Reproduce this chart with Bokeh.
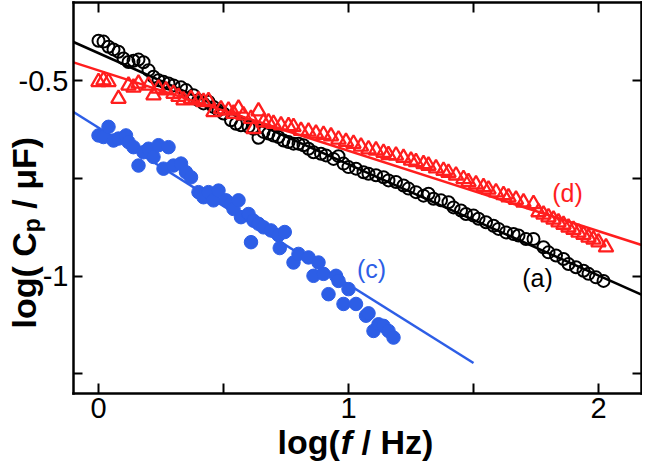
from math import pi
from bokeh.plotting import figure
from bokeh.models import LinearAxis, FixedTicker, Label, Range1d
from bokeh.embed import file_html
from bokeh.resources import INLINE

# ---------------- data ----------------
# (a) black open circles
a_x = [0.00, 0.02, 0.04, 0.06, 0.08, 0.10, 0.12, 0.14, 0.16, 0.18, 0.20, 0.22, 0.24, 0.26, 0.28, 0.30,
       0.33, 0.35, 0.38, 0.40, 0.42, 0.44, 0.46, 0.48, 0.50,
       0.53, 0.55, 0.57, 0.60, 0.62, 0.64, 0.66, 0.68, 0.70, 0.72, 0.74, 0.76, 0.78, 0.80, 0.82, 0.84, 0.86,
       0.89, 0.91, 0.94, 0.96, 0.98, 1.00, 1.03, 1.06, 1.08, 1.11, 1.14, 1.16, 1.19, 1.22, 1.24, 1.27,
       1.30, 1.32, 1.34, 1.37, 1.40, 1.42, 1.45, 1.47, 1.50, 1.52, 1.55, 1.58, 1.60, 1.63, 1.66, 1.68,
       1.71, 1.74, 1.78, 1.80, 1.83, 1.86, 1.88, 1.91, 1.94, 1.96, 1.99, 2.02]
a_y = [-0.398, -0.400, -0.413, -0.420, -0.426, -0.443, -0.452, -0.449, -0.446, -0.453, -0.473, -0.490,
       -0.499, -0.503, -0.507, -0.512,
       -0.517, -0.524, -0.537, -0.550, -0.558, -0.554, -0.567, -0.576, -0.584,
       -0.601, -0.610, -0.614, -0.618, -0.623, -0.646, -0.631, -0.635, -0.640, -0.644, -0.653, -0.657,
       -0.661, -0.661, -0.665, -0.674, -0.683,
       -0.687, -0.691, -0.700, -0.693, -0.712, -0.721, -0.725, -0.734, -0.738, -0.742, -0.747, -0.755,
       -0.759, -0.768, -0.776, -0.785, -0.794, -0.789, -0.802, -0.806, -0.811, -0.824, -0.832, -0.841,
       -0.845, -0.853, -0.862, -0.871, -0.879, -0.888, -0.892, -0.896, -0.905, -0.905, -0.926, -0.939,
       -0.947, -0.956, -0.969, -0.977, -0.986, -0.994, -1.003, -1.012]

# (d) red open triangles
d_x = [0.00, 0.02, 0.04, 0.08, 0.12, 0.14, 0.16, 0.20, 0.22, 0.24, 0.27, 0.30, 0.32, 0.34, 0.37, 0.40,
       0.42, 0.44, 0.46, 0.49, 0.52, 0.54, 0.56, 0.58, 0.61, 0.62, 0.64, 0.66, 0.68, 0.70, 0.73, 0.76,
       0.78, 0.81, 0.84, 0.87, 0.90, 0.93, 0.96, 0.99, 1.02, 1.05, 1.08, 1.11, 1.14, 1.16, 1.19, 1.22,
       1.25, 1.27, 1.30, 1.32, 1.35, 1.38, 1.40, 1.43, 1.46, 1.48, 1.51, 1.54, 1.56, 1.59, 1.62, 1.64,
       1.67, 1.70, 1.74, 1.76, 1.78, 1.80, 1.82, 1.84, 1.86, 1.88, 1.90, 1.92, 1.94, 1.96, 1.98, 2.00, 2.03]
d_y = [-0.503, -0.499, -0.503, -0.546, -0.512, -0.517, -0.507, -0.512, -0.537, -0.520, -0.524, -0.533,
       -0.541, -0.550, -0.546, -0.550, -0.554, -0.552, -0.580, -0.573, -0.576, -0.584, -0.571, -0.588,
       -0.597, -0.623, -0.578, -0.606, -0.606, -0.610, -0.614, -0.616, -0.618, -0.628, -0.630, -0.635,
       -0.638, -0.642, -0.650, -0.656, -0.661, -0.668, -0.675, -0.678, -0.684, -0.690, -0.691, -0.697,
       -0.704, -0.708, -0.713, -0.717, -0.724, -0.730, -0.735, -0.742, -0.751, -0.759, -0.765, -0.772,
       -0.778, -0.785, -0.792, -0.798, -0.804, -0.811, -0.815, -0.836, -0.842, -0.849, -0.855, -0.862,
       -0.868, -0.875, -0.881, -0.888, -0.894, -0.901, -0.906, -0.913, -0.926]

# (c) blue filled circles
c_x = [0.00, 0.02, 0.04, 0.06, 0.08, 0.11, 0.12, 0.14, 0.16, 0.18, 0.20, 0.22, 0.24, 0.26, 0.28, 0.30,
       0.33, 0.35, 0.37, 0.40, 0.42, 0.44, 0.46, 0.48, 0.51, 0.53, 0.54, 0.56, 0.57, 0.60, 0.62, 0.64,
       0.66, 0.69, 0.72, 0.745, 0.61, 0.725, 0.78, 0.80, 0.84, 0.88, 0.86, 0.90, 0.92, 0.95, 0.96, 1.00,
       0.98, 1.03, 1.07, 1.08, 1.10, 1.12, 1.14, 1.16, 1.18]
c_y = [-0.640, -0.644, -0.618, -0.653, -0.648, -0.640, -0.657, -0.670, -0.717, -0.683, -0.674, -0.695,
       -0.665, -0.725, -0.670, -0.717, -0.712, -0.734, -0.747, -0.785, -0.798, -0.785, -0.806, -0.781,
       -0.806, -0.815, -0.828, -0.806, -0.849, -0.841, -0.858, -0.866, -0.875, -0.883, -0.895, -0.887,
       -0.913, -0.928, -0.965, -0.943, -0.952, -0.965, -0.999, -0.994, -1.046, -0.999, -1.012, -1.033,
       -1.071, -1.071, -1.101, -1.095, -1.140, -1.123, -1.127, -1.140, -1.157]

# fitted lines
fit_a_x = [-0.1, 2.2]
fit_a_y = [-0.401, -1.055]
fit_d_x = [-0.1, 2.2]
fit_d_y = [-0.453, -0.926]
fit_c_x = [-0.1, 1.5]
fit_c_y = [-0.580, -1.222]

# axes
x_major = [0, 1, 2]
x_minor = [0.5, 1.5]
x_labels = ["0", "1", "2"]
y_major = [-1, -0.5]
y_minor = [-1.25, -0.75]
y_labels = ["-1", "-0.5"]

series_labels = ["(a)", "(c)", "(d)"]

# ---------------- styles / geometry ----------------
BLACK = "black"
RED = "#ff1e1e"
BLUE = "#2d5ee6"
FONT = "Liberation Sans"

CW, CH = 642, 462                 # canvas size
XPX, YPX = 250.0, 391.0           # px per data unit
BOX_L, BOX_R, BOX_T, BOX_B = 73, 640.5, 2, 393   # plot box in canvas px
X_LO = -0.1                       # data value at the box's left edge
Y_LO, Y_HI = -1.3, -0.3           # data values at the box's bottom / top edge

XR = (X_LO - BOX_L / XPX, X_LO + (CW - BOX_L) / XPX)
YR = (Y_HI - (CH - BOX_T) / YPX, Y_HI + BOX_T / YPX)
X_HI = X_LO + (BOX_R - BOX_L) / XPX


def dx(px):
    return XR[0] + px / XPX


def dy(py):
    return YR[1] - py / YPX


p = figure(width=CW, height=CH,
           x_range=Range1d(*XR), y_range=Range1d(*YR),
           output_backend="svg", toolbar_location=None,
           x_axis_location=None, y_axis_location=None,
           min_border=0)
p.min_border_left = 0
p.min_border_right = 0
p.min_border_top = 0
p.min_border_bottom = 0
p.xgrid.visible = False
p.ygrid.visible = False
p.outline_line_color = None
p.background_fill_color = "white"
p.border_fill_color = "white"


def box_axis(side, loc, bounds, ticks, minor, labels, tick_len, show, standoff=5):
    ax = LinearAxis(fixed_location=loc, bounds=bounds)
    ax.ticker = FixedTicker(ticks=ticks, minor_ticks=minor)
    ax.major_tick_in = tick_len
    ax.major_tick_out = 0
    ax.minor_tick_in = tick_len
    ax.minor_tick_out = 0
    ax.major_tick_line_width = 2
    ax.minor_tick_line_width = 2
    ax.major_tick_line_color = "black"
    ax.minor_tick_line_color = "black"
    ax.axis_line_color = "black"
    ax.axis_line_width = 2.5
    ax.axis_line_cap = "square"
    if show:
        ax.major_label_overrides = {t: l for t, l in zip(ticks, labels)}
        ax.major_label_text_font = FONT
        ax.major_label_text_font_size = "29px"
        ax.major_label_text_color = "black"
        ax.major_label_standoff = standoff
    else:
        ax.major_label_overrides = {t: "" for t in ticks}
        ax.major_label_text_font_size = "0px"
        ax.major_label_standoff = 0
    p.add_layout(ax, side)


box_axis("below", Y_LO, (X_LO, X_HI), x_major, x_minor, x_labels, 10, True, standoff=4)
box_axis("left", X_LO, (Y_LO, Y_HI), y_major, y_minor, y_labels, 9, True, standoff=5)
box_axis("above", Y_HI, (X_LO, X_HI), x_major, x_minor, x_labels, 10, False)
box_axis("right", X_HI, (Y_LO, Y_HI), y_major, y_minor, y_labels, 9, False)

# ---------------- marks ----------------
p.line(fit_a_x, fit_a_y, line_color=BLACK, line_width=2.5)
p.scatter(a_x, a_y, marker="circle", size=12, line_color=BLACK, line_width=2, fill_color=None)
p.line(fit_d_x, fit_d_y, line_color=RED, line_width=2.5)
p.scatter(d_x, d_y, marker="triangle", size=14.5, line_color=RED, line_width=2.3, fill_color=None)
p.line(fit_c_x, fit_c_y, line_color=BLUE, line_width=2.5)
p.scatter(c_x, c_y, marker="circle", size=13.5, line_color=BLUE, fill_color=BLUE)

# series annotations
for txt, (px, py), col in zip(series_labels, [(537, 277), (371, 268), (567, 192)], [BLACK, BLUE, RED]):
    p.add_layout(Label(x=dx(px), y=dy(py), text=txt, text_font=FONT, text_font_size="25px",
                       text_color=col, text_align="center", text_baseline="middle"))

# ---------------- axis titles ----------------
BOLD_W = {'l': 278, 'o': 611, 'g': 611, '(': 333, ')': 333, ' ': 278, 'C': 722, 'p': 611,
          '/': 278, 'μ': 611, 'F': 611, 'H': 722, 'z': 500, 'f': 333}


def tw(s, size):
    return sum(BOLD_W[ch] for ch in s) * size / 1000.0


TS = 34
SUB = 23
SP = tw(" ", TS)
SHIFT = 9           # the label anchor sits this far above the drawn baseline


def piece(px, py, text, size, style, angle=0.0):
    p.add_layout(Label(x=dx(px), y=dy(py), text=text, angle=angle,
                       text_font=FONT, text_font_size=f"{size}px", text_font_style=style,
                       text_color="black", text_align="left", text_baseline="alphabetic"))


# x title: log(f / Hz)
XB = 450 - SHIFT
cur = 277.0
piece(cur, XB, "log(", TS, "bold")
cur += tw("log(", TS) + 1
piece(cur, XB, "f", TS, "bold italic")
cur += tw("f", TS) + SP
piece(cur, XB, "/", TS, "bold")
cur += tw("/", TS) + SP
piece(cur, XB, "Hz)", TS, "bold")

# y title: log( C_p / μF), reading upward
YB = 32.5 - SHIFT
cur = 328.0
piece(YB, cur, "log(", TS, "bold", pi / 2)
cur -= tw("log(", TS) + SP
piece(YB, cur, "C", TS, "bold", pi / 2)
cur -= tw("C", TS)
piece(YB + 8, cur, "p", SUB, "bold", pi / 2)
cur -= tw("p", SUB) + SP
piece(YB, cur, "/", TS, "bold", pi / 2)
cur -= tw("/", TS) + SP
piece(YB, cur, "μF)", TS, "bold", pi / 2)

open("out.html", "w").write(file_html(p, INLINE))
